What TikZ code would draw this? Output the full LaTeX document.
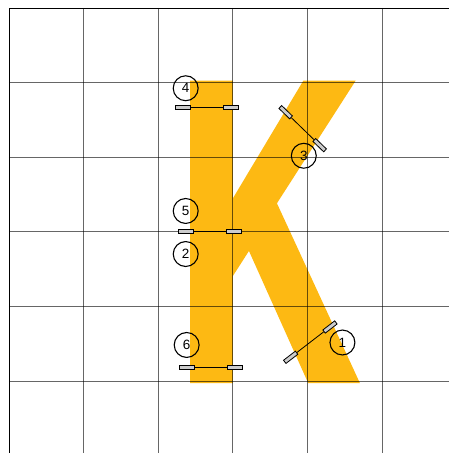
\documentclass[tikz,border=0pt]{standalone}
\usepackage{fontspec}
\setmainfont{Liberation Sans}
\definecolor{kgiallo}{RGB}{253,185,19}
\tikzset{
  num/.style={circle, draw, line width=1.1pt, minimum size=25pt, inner sep=0pt,
    font=\fontsize{13.5}{13.5}\selectfont},
  tab/.style={draw, fill=black!20, line width=0.8pt, minimum width=15pt,
    minimum height=4pt, inner sep=0pt},
  misura/.style={line width=0.8pt}
}
\begin{document}
\begin{tikzpicture}[x=2.63cm,y=2.63cm]
  \useasboundingbox (-0.12,-0.965) rectangle (5.898,5.107);
  % lettera K
  \fill[kgiallo] (2.43,4.025) -- (3,4.025) -- (3,2.446) -- (3.945,4.025)
    -- (4.647,4.025) -- (3.592,2.382) -- (4.705,-0.03) -- (4.012,-0.03)
    -- (3.217,1.743) -- (3,1.405) -- (3,-0.03) -- (2.43,-0.03) -- cycle;

  % griglia
  \foreach \x in {1,...,5} {
    \draw[black, opacity=0.6, line width=0.9pt] (\x,5) -- (\x,-0.965);
  }
  \foreach \y in {0,...,4} {
    \draw[black, opacity=0.6, line width=0.9pt] (0,\y) -- (5.898,\y);
  }
  \draw[line width=0.9pt] (0,-0.965) -- (0,5) -- (5.898,5);

  % misure orizzontali
  \node[tab] (t4a) at (2.331,3.673) {};
  \node[tab] (t4b) at (2.978,3.673) {};
  \draw[misura] (t4a) -- (t4b);
  \node[tab] (t5a) at (2.366,2.001) {};
  \node[tab] (t5b) at (3.015,2.001) {};
  \draw[misura] (t5a) -- (t5b);
  \node[tab] (t6a) at (2.387,0.181) {};
  \node[tab] (t6b) at (3.029,0.181) {};
  \draw[misura] (t6a) -- (t6b);
  % misure oblique
  \node[tab, rotate=-44.1] (t3a) at (3.709,3.603) {};
  \node[tab, rotate=-44.1] (t3b) at (4.165,3.161) {};
  \draw[misura] (t3a) -- (t3b);
  \node[tab, rotate=37.6] (t1a) at (3.776,0.318) {};
  \node[tab, rotate=37.6] (t1b) at (4.303,0.724) {};
  \draw[misura] (t1a) -- (t1b);

  \node[num] (n4) at (2.369,3.924) {4};
  \node[num] (n5) at (2.369,2.279) {5};
  \node[num] (n2) at (2.369,1.702) {2};
  \node[num] (n6) at (2.382,0.483) {6};
  \node[num] (n3) at (3.952,3.019) {3};
  \node[num] (n1) at (4.470,0.516) {1};
\end{tikzpicture}
\end{document}
